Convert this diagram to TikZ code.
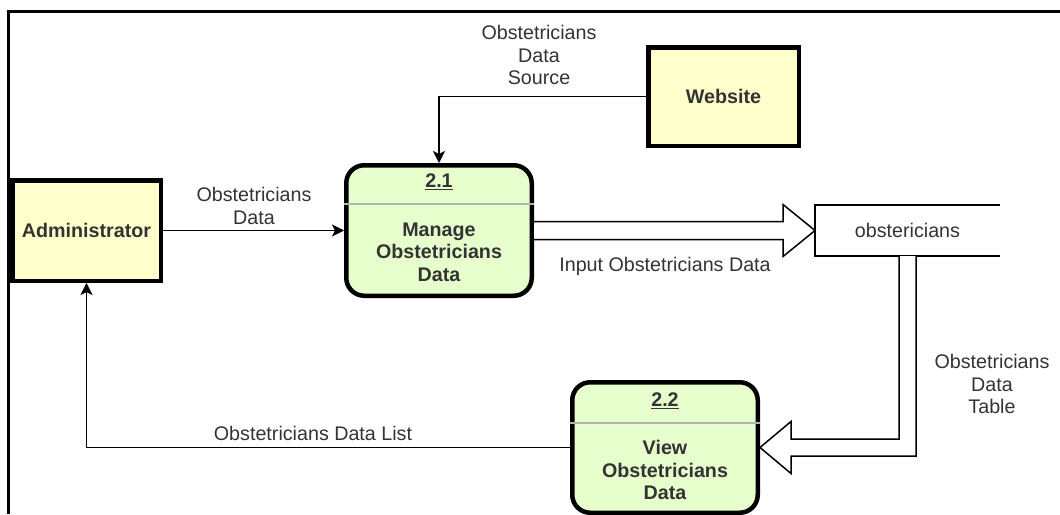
\documentclass[tikz,border=0pt]{standalone}
\usepackage{fontspec}
\setmainfont{Liberation Sans}
\usetikzlibrary{arrows.meta,calc}
\definecolor{entityfill}{HTML}{FFFFCC}
\definecolor{procfill}{HTML}{E6FFCC}
\definecolor{inktext}{HTML}{333333}
\definecolor{dividergray}{HTML}{B3B3B3}
\newcommand{\dfdfont}{\fontsize{19.7pt}{22.5pt}\selectfont}
\tikzset{
  frame/.style={line width=3pt},
  entity/.style={draw, fill=entityfill, line width=4.5pt, font=\dfdfont\bfseries, text=inktext},
  process/.style={draw, fill=procfill, line width=4.5pt, rounded corners=18pt,
    minimum width=185.5pt, minimum height=130.5pt},
  proctitle/.style={font=\dfdfont\bfseries, text=inktext},
  proctext/.style={font=\dfdfont\bfseries, text=inktext, align=center},
  store/.style={minimum width=185pt, minimum height=51pt, outer sep=0pt, font=\dfdfont, text=inktext},
  storeline/.style={line width=1.5pt},
  divider/.style={draw=dividergray, line width=2.5pt},
  flow/.style={line width=1.5pt, -{Stealth[length=12pt,width=12pt,inset=3pt]}},
  bigflow/.style={draw, line width=1.5pt, fill=white, line join=miter},
  flowlabel/.style={font=\dfdfont, text=inktext, align=center}
}
\begin{document}
\begin{tikzpicture}[x=1pt,y=-1pt]
  \useasboundingbox (0,0) rectangle (1060,514);
  \clip (0,0) rectangle (1060,514);
  \draw[frame] (8,514) -- (8,11) -- (1060,11);

  % external entities
  \node[entity, minimum width=148.5pt, minimum height=100.5pt] (admin) at (86.5,230.5) {Administrator};
  \node[entity, minimum width=150.5pt, minimum height=98.5pt] (web) at (723.5,96.5) {Website};

  % processes
  \node[process] (p1) at (439,230.5) {};
  \node[process] (p2) at (665,447.5) {};
  \draw[divider] ($(p1.north west)+(0,41)$) -- ($(p1.north east)+(0,41)$);
  \draw[divider] ($(p2.north west)+(0,43)$) -- ($(p2.north east)+(0,43)$);
  \node[proctitle] (p1id) at ($(p1.north)+(0,19)$) {\underline{2.1}};
  \node[proctitle] (p2id) at ($(p2.north)+(0,21)$) {\underline{2.2}};
  \node[proctext] (p1txt) at ($(p1.center)+(0,21.5)$) {Manage\\Obstetricians\\Data};
  \node[proctext] (p2txt) at ($(p2.center)+(0,22.5)$) {View\\Obstetricians\\Data};

  % data store
  \node[store] (store) at (907.5,230.5) {obstericians};
  \draw[storeline] (store.north east) -- (store.north west) -- (store.south west) -- (store.south east);

  % flows
  \draw[flow] (admin) -- (p1);
  \draw[flow] (web.west) -| (p1.north);
  \draw[flow] (p2.west) -| (admin.south);
  \draw[bigflow] ($(p1.east)+(0,-9)$) -- ($(store.west)+(-32,-9)$) -- ($(store.west)+(-32,-26)$)
    -- (store.west) -- ($(store.west)+(-32,26)$) -- ($(store.west)+(-32,9)$) -- ($(p1.east)+(0,9)$);
  \draw[bigflow] ($(store.south)+(-8.5,0)$) |- ($(p2.east)+(31,-8.5)$) -- ($(p2.east)+(31,-26)$)
    -- (p2.east) -- ($(p2.east)+(31,26)$) -- ($(p2.east)+(31,8.5)$) -| ($(store.south)+(8.5,0)$);

  % flow labels
  \node[flowlabel] (lbladmin) at (254,206) {Obstetricians\\Data};
  \node[flowlabel] (lblweb) at (539,55) {Obstetricians\\Data\\Source};
  \node[flowlabel] (lblinput) at (665,266) {Input Obstetricians Data};
  \node[flowlabel] (lbltable) at (992,384) {Obstetricians\\Data\\Table};
  \node[flowlabel] (lbllist) at (313,433) {Obstetricians Data List};
\end{tikzpicture}
\end{document}
